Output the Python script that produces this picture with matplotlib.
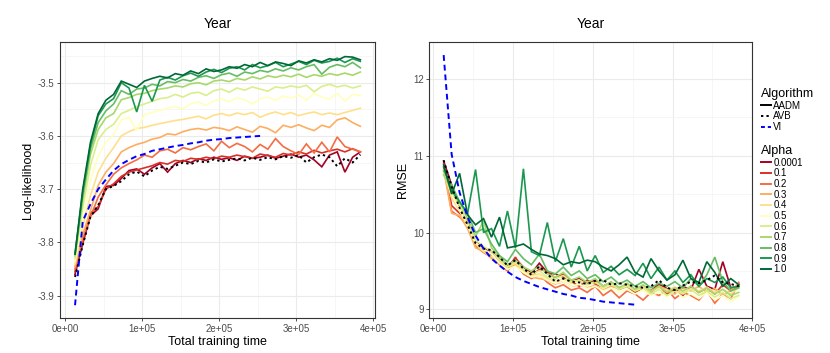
import matplotlib
matplotlib.use('Agg')
import matplotlib.pyplot as plt
from matplotlib.lines import Line2D
from matplotlib.ticker import MultipleLocator

plt.rcParams['font.family'] = ['Liberation Sans', 'DejaVu Sans']

# training time (thousands)
t = [13, 23, 33, 43, 53, 63, 73, 83, 93, 103, 113, 123, 133, 143, 153, 163, 173, 183, 193,
     203, 213, 223, 233, 243, 253, 263, 273, 283, 293, 303, 313, 323, 333, 343, 353, 363, 373, 383]
t_vi = t[:25]

alphas = ['0.0001', '0.1', '0.2', '0.3', '0.4', '0.5', '0.6', '0.7', '0.8', '0.9', '1.0']
colors = ['#a50026', '#d73027', '#f46d43', '#fdae61', '#fee08b', '#ffffbf',
          '#d9ef8b', '#a6d96a', '#66bd63', '#1a9850', '#006837']

# log-likelihood, AADM per alpha
ll = {
    '0.0001': [-3.860, -3.802, -3.750, -3.737, -3.695, -3.693, -3.680, -3.665, -3.662, -3.672, -3.660, -3.652, -3.668,
               -3.652, -3.646, -3.650, -3.643, -3.646, -3.640, -3.644, -3.641, -3.646, -3.638, -3.642, -3.640, -3.636,
               -3.642, -3.638, -3.634, -3.640, -3.636, -3.645, -3.658, -3.636, -3.630, -3.668, -3.640, -3.630],
    '0.1': [-3.855, -3.800, -3.745, -3.733, -3.700, -3.690, -3.676, -3.668, -3.664, -3.660, -3.656, -3.650, -3.653,
            -3.646, -3.648, -3.642, -3.644, -3.640, -3.643, -3.638, -3.640, -3.636, -3.639, -3.642, -3.634, -3.637,
            -3.640, -3.633, -3.636, -3.630, -3.634, -3.627, -3.632, -3.628, -3.625, -3.630, -3.624, -3.630],
    '0.2': [-3.850, -3.790, -3.752, -3.715, -3.692, -3.672, -3.660, -3.652, -3.645, -3.636, -3.640, -3.628, -3.625,
            -3.632, -3.622, -3.626, -3.620, -3.615, -3.628, -3.610, -3.622, -3.614, -3.620, -3.630, -3.616, -3.625,
            -3.605, -3.620, -3.628, -3.635, -3.615, -3.632, -3.612, -3.630, -3.602, -3.620, -3.625, -3.630],
    '0.3': [-3.845, -3.785, -3.740, -3.693, -3.668, -3.652, -3.630, -3.622, -3.616, -3.612, -3.606, -3.603, -3.596,
            -3.598, -3.592, -3.588, -3.586, -3.589, -3.584, -3.586, -3.590, -3.583, -3.588, -3.593, -3.582, -3.586,
            -3.594, -3.580, -3.584, -3.579, -3.585, -3.590, -3.580, -3.584, -3.570, -3.566, -3.575, -3.582],
    '0.4': [-3.840, -3.770, -3.712, -3.668, -3.642, -3.622, -3.600, -3.592, -3.586, -3.584, -3.580, -3.577, -3.574,
            -3.571, -3.569, -3.566, -3.563, -3.568, -3.561, -3.558, -3.562, -3.557, -3.560, -3.556, -3.565, -3.559,
            -3.555, -3.560, -3.556, -3.562, -3.558, -3.555, -3.560, -3.557, -3.560, -3.556, -3.552, -3.548],
    '0.5': [-3.835, -3.755, -3.683, -3.637, -3.612, -3.598, -3.570, -3.565, -3.590, -3.560, -3.556, -3.552, -3.548,
            -3.545, -3.549, -3.540, -3.536, -3.543, -3.534, -3.530, -3.536, -3.528, -3.532, -3.540, -3.530, -3.527,
            -3.533, -3.525, -3.529, -3.523, -3.533, -3.520, -3.527, -3.531, -3.520, -3.535, -3.522, -3.524],
    '0.6': [-3.830, -3.735, -3.655, -3.607, -3.588, -3.578, -3.558, -3.552, -3.545, -3.540, -3.535, -3.530, -3.528,
            -3.522, -3.527, -3.520, -3.518, -3.524, -3.515, -3.512, -3.518, -3.510, -3.514, -3.508, -3.512, -3.516,
            -3.508, -3.510, -3.506, -3.509, -3.505, -3.517, -3.507, -3.503, -3.508, -3.505, -3.510, -3.506],
    '0.7': [-3.825, -3.720, -3.635, -3.588, -3.566, -3.558, -3.532, -3.528, -3.522, -3.520, -3.515, -3.512, -3.510,
            -3.506, -3.508, -3.502, -3.500, -3.504, -3.497, -3.495, -3.498, -3.492, -3.495, -3.489, -3.493, -3.487,
            -3.490, -3.486, -3.489, -3.484, -3.490, -3.485, -3.488, -3.483, -3.486, -3.482, -3.486, -3.480],
    '0.8': [-3.822, -3.712, -3.625, -3.575, -3.553, -3.540, -3.515, -3.522, -3.512, -3.510, -3.503, -3.506, -3.498,
            -3.500, -3.494, -3.497, -3.490, -3.487, -3.492, -3.485, -3.482, -3.488, -3.480, -3.483, -3.477, -3.480,
            -3.474, -3.478, -3.472, -3.476, -3.470, -3.466, -3.484, -3.471, -3.466, -3.470, -3.462, -3.472],
    '0.9': [-3.822, -3.705, -3.618, -3.562, -3.540, -3.530, -3.500, -3.510, -3.555, -3.505, -3.535, -3.495, -3.490,
            -3.495, -3.487, -3.482, -3.488, -3.480, -3.475, -3.481, -3.473, -3.470, -3.476, -3.466, -3.472, -3.468,
            -3.462, -3.470, -3.465, -3.460, -3.466, -3.458, -3.463, -3.460, -3.454, -3.462, -3.455, -3.460],
    '1.0': [-3.822, -3.700, -3.612, -3.558, -3.533, -3.522, -3.497, -3.503, -3.509, -3.497, -3.492, -3.488, -3.491,
            -3.483, -3.486, -3.478, -3.483, -3.474, -3.479, -3.476, -3.470, -3.473, -3.466, -3.470, -3.462, -3.468,
            -3.461, -3.464, -3.468, -3.459, -3.463, -3.457, -3.461, -3.455, -3.458, -3.451, -3.452, -3.457],
}
ll_avb = [-3.865, -3.805, -3.752, -3.730, -3.700, -3.694, -3.685, -3.672, -3.667, -3.676, -3.665, -3.658, -3.662,
          -3.656, -3.650, -3.653, -3.647, -3.650, -3.644, -3.648, -3.645, -3.642, -3.646, -3.641, -3.645, -3.640,
          -3.644, -3.638, -3.641, -3.636, -3.650, -3.640, -3.635, -3.640, -3.657, -3.642, -3.650, -3.635]
ll_vi = [-3.918, -3.760, -3.728, -3.700, -3.682, -3.665, -3.653, -3.645, -3.638, -3.634, -3.628, -3.625, -3.622,
         -3.619, -3.617, -3.614, -3.612, -3.609, -3.607, -3.606, -3.604, -3.603, -3.602, -3.601, -3.600]

# RMSE, AADM per alpha
rmse = {
    '0.0001': [10.93, 10.62, 10.30, 10.12, 9.88, 9.80, 9.75, 9.66, 9.56, 9.66, 9.55, 9.47, 9.60, 9.48, 9.46, 9.42,
               9.38, 9.40, 9.34, 9.38, 9.30, 9.35, 9.28, 9.32, 9.26, 9.30, 9.24, 9.33, 9.27, 9.22, 9.30, 9.25, 9.52,
               9.30, 9.26, 9.62, 9.28, 9.30],
    '0.1': [10.90, 10.35, 10.25, 10.15, 9.84, 9.78, 9.70, 9.62, 9.52, 9.68, 9.50, 9.44, 9.52, 9.50, 9.40, 9.46,
            9.36, 9.30, 9.38, 9.33, 9.29, 9.34, 9.26, 9.30, 9.22, 9.28, 9.24, 9.31, 9.20, 9.26, 9.18, 9.30, 9.22,
            9.28, 9.20, 9.32, 9.24, 9.33],
    '0.2': [10.85, 10.28, 10.20, 10.10, 9.82, 9.74, 9.68, 9.58, 9.50, 9.60, 9.46, 9.40, 9.45, 9.35, 9.28, 9.32,
            9.25, 9.28, 9.22, 9.30, 9.18, 9.25, 9.15, 9.24, 9.20, 9.12, 9.22, 9.18, 9.26, 9.14, 9.22, 9.18, 9.12,
            9.24, 9.08, 9.20, 9.14, 9.35],
    '0.3': [10.82, 10.25, 10.22, 10.05, 9.80, 9.76, 9.66, 9.60, 9.52, 9.58, 9.48, 9.42, 9.40, 9.38, 9.33, 9.36,
            9.30, 9.32, 9.28, 9.31, 9.25, 9.30, 9.27, 9.32, 9.24, 9.28, 9.22, 9.30, 9.26, 9.20, 9.28, 9.24, 9.30,
            9.22, 9.27, 9.18, 9.25, 9.33],
    '0.4': [10.80, 10.45, 10.28, 10.08, 9.85, 9.75, 9.69, 9.62, 9.55, 9.60, 9.50, 9.44, 9.46, 9.40, 9.36, 9.40,
            9.34, 9.38, 9.32, 9.35, 9.30, 9.34, 9.28, 9.31, 9.26, 9.30, 9.24, 9.28, 9.25, 9.29, 9.22, 9.27, 9.24,
            9.29, 9.22, 9.26, 9.20, 9.28],
    '0.5': [10.78, 10.50, 10.30, 10.10, 9.87, 9.78, 9.72, 9.60, 9.52, 9.56, 9.48, 9.42, 9.44, 9.38, 9.34, 9.36,
            9.30, 9.33, 9.27, 9.30, 9.24, 9.28, 9.22, 9.26, 9.20, 9.25, 9.18, 9.22, 9.16, 9.24, 9.15, 9.20, 9.14,
            9.22, 9.12, 9.18, 9.10, 9.16],
    '0.6': [10.76, 10.52, 10.35, 10.12, 9.90, 9.82, 9.75, 9.65, 9.55, 9.62, 9.52, 9.46, 9.50, 9.42, 9.40, 9.44,
            9.36, 9.38, 9.32, 9.36, 9.28, 9.33, 9.26, 9.30, 9.24, 9.28, 9.20, 9.26, 9.18, 9.24, 9.20, 9.26, 9.18,
            9.24, 9.16, 9.22, 9.14, 9.18],
    '0.7': [10.75, 10.55, 10.40, 10.18, 9.95, 10.15, 9.80, 9.68, 9.58, 9.64, 9.55, 9.50, 9.56, 9.46, 9.42, 9.48,
            9.38, 9.42, 9.35, 9.40, 9.30, 9.36, 9.28, 9.34, 9.26, 9.32, 9.24, 9.30, 9.22, 9.28, 9.24, 9.30, 9.22,
            9.28, 9.20, 9.26, 9.18, 9.22],
    '0.8': [10.80, 10.62, 10.40, 10.25, 10.00, 10.05, 9.85, 9.70, 9.62, 9.78, 9.66, 9.58, 9.72, 9.50, 9.46, 9.55,
            9.44, 9.50, 9.40, 9.45, 9.36, 9.42, 9.33, 9.38, 9.30, 9.36, 9.28, 9.34, 9.30, 9.36, 9.28, 9.40, 9.30,
            9.45, 9.68, 9.36, 9.24, 9.28],
    '0.9': [10.85, 10.55, 10.40, 10.25, 10.82, 10.00, 10.05, 9.82, 10.28, 9.80, 10.83, 9.75, 9.70, 10.13, 9.62,
            9.92, 9.55, 9.82, 9.50, 9.70, 9.48, 9.56, 9.45, 9.52, 9.44, 9.60, 9.40, 9.55, 9.38, 9.50, 9.35, 9.45,
            9.30, 9.40, 9.35, 9.42, 9.28, 9.30],
    '1.0': [10.88, 10.50, 10.77, 10.23, 10.10, 10.18, 9.94, 10.20, 9.80, 9.82, 9.85, 9.78, 9.72, 9.70, 9.66, 9.58,
            9.62, 9.60, 9.64, 9.62, 9.55, 9.50, 9.58, 9.68, 9.48, 9.42, 9.66, 9.50, 9.38, 9.45, 9.64, 9.40, 9.35,
            9.62, 9.48, 9.30, 9.40, 9.32],
}
rmse_avb = [10.94, 10.60, 10.32, 10.10, 9.86, 9.79, 9.77, 9.68, 9.57, 9.64, 9.53, 9.45, 9.56, 9.46, 9.36, 9.40,
            9.36, 9.35, 9.33, 9.37, 9.38, 9.32, 9.34, 9.32, 9.30, 9.28, 9.30, 9.38, 9.28, 9.25, 9.31, 9.36, 9.34,
            9.38, 9.44, 9.35, 9.33, 9.30]
rmse_vi = [12.31, 11.02, 10.52, 10.20, 9.96, 9.79, 9.66, 9.57, 9.49, 9.42, 9.37, 9.33, 9.29, 9.26, 9.23, 9.20,
           9.18, 9.15, 9.14, 9.12, 9.10, 9.09, 9.08, 9.07, 9.06]

fig = plt.figure(figsize=(8.3, 3.53), dpi=100)
ax1 = fig.add_axes([60 / 830, 35 / 353, 315 / 830, 276 / 353])
ax2 = fig.add_axes([429.3 / 830, 35 / 353, 323 / 830, 276 / 353])


def draw(ax, data, avb, vi, ylabel):
    x = [v * 1000 for v in t]
    xv = [v * 1000 for v in t_vi]
    for a, c in zip(alphas, colors):
        ax.plot(x, data[a], color=c, lw=1.2, solid_joinstyle='miter', zorder=2)
    ax.plot(x, avb, color='black', lw=1.4, ls=(0, (1.2, 1.6)), zorder=3)
    ax.plot(xv, vi, color='blue', lw=1.4, ls=(0, (3, 2)), zorder=3)
    ax.set_title('Year', fontsize=10, pad=10)
    ax.set_xlabel('Total training time', fontsize=9, labelpad=2)
    ax.set_ylabel(ylabel, fontsize=9, labelpad=3)
    ax.set_xticks([0, 100000, 200000, 300000, 400000])
    ax.set_xticklabels(['0e+00', '1e+05', '2e+05', '3e+05', '4e+05'])
    ax.xaxis.set_minor_locator(MultipleLocator(50000))
    ax.grid(which='major', color='#EBEBEB', lw=0.8, zorder=0)
    ax.grid(which='minor', color='#F3F3F3', lw=0.5, zorder=0)
    ax.set_axisbelow(True)
    ax.tick_params(which='major', length=2.5, width=0.6, color='#333333',
                   labelsize=7, labelcolor='#4D4D4D', pad=1.5)
    ax.tick_params(which='minor', length=0)
    for s in ax.spines.values():
        s.set_color('#333333')
        s.set_linewidth(0.8)


draw(ax1, ll, ll_avb, ll_vi, 'Log-likelihood')
ax1.set_xlim(-6500, 402000)
ax1.set_ylim(-3.942, -3.4236)
ax1.set_yticks([-3.9, -3.8, -3.7, -3.6, -3.5])
ax1.set_yticklabels(['-3.9', '-3.8', '-3.7', '-3.6', '-3.5'])
ax1.yaxis.set_minor_locator(MultipleLocator(0.05))

draw(ax2, rmse, rmse_avb, rmse_vi, 'RMSE')
ax2.set_xlim(-5000, 400000)
ax2.set_ylim(8.887, 12.48)
ax2.set_yticks([9, 10, 11, 12])
ax2.yaxis.set_minor_locator(MultipleLocator(0.5))

alg_handles = [Line2D([], [], color='black', lw=1.4),
               Line2D([], [], color='black', lw=1.4, ls=(0, (1.2, 1.6))),
               Line2D([], [], color='blue', lw=1.4, ls=(0, (2, 1.5)))]
leg1 = fig.legend(alg_handles, ['AADM', 'AVB', 'VI'], title='Algorithm', loc='upper left',
                  bbox_to_anchor=(761 / 830, 1 - 88 / 353), frameon=False, fontsize=7,
                  title_fontsize=9, handlelength=1.0, handletextpad=0.25, labelspacing=0.07,
                  borderpad=0, borderaxespad=0, alignment='left')
alpha_handles = [Line2D([], [], color=c, lw=1.4) for c in colors]
leg2 = fig.legend(alpha_handles, alphas, title='Alpha', loc='upper left',
                  bbox_to_anchor=(761 / 830, 1 - 145 / 353), frameon=False, fontsize=7,
                  title_fontsize=9, handlelength=1.0, handletextpad=0.25, labelspacing=0.07,
                  borderpad=0, borderaxespad=0, alignment='left')

fig.savefig('out.png', dpi=100)
